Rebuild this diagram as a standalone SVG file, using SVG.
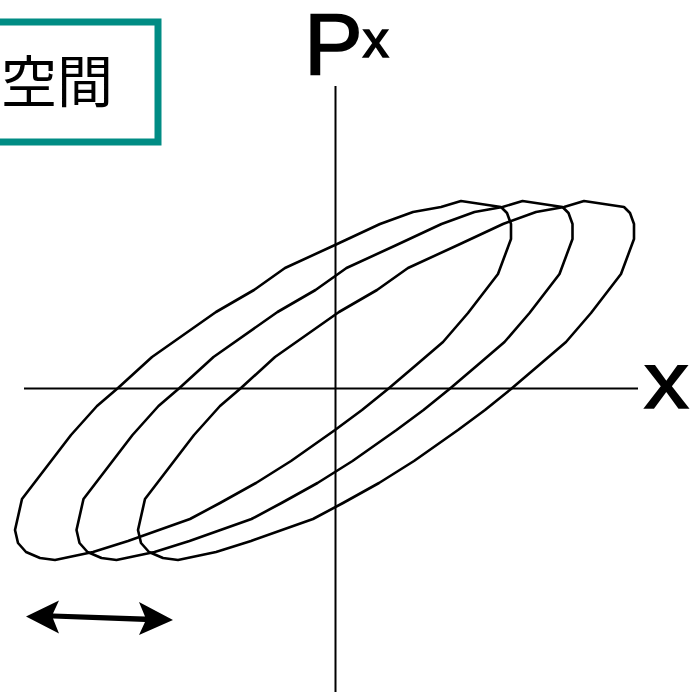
<svg xmlns="http://www.w3.org/2000/svg" width="692" height="692" viewBox="0 0 692 692">
  <style>
    .axis { stroke: #000; stroke-width: 2; fill: none; }
    .orbit { stroke: #000; stroke-width: 2.6; fill: none; stroke-linejoin: round; }
    .lbl { font-family: "Liberation Sans", Arial, sans-serif; fill: #000; stroke: #000; stroke-width: 1.6; }
    .jp { font-family: "Noto Sans CJK JP", "Noto Sans CJK SC", sans-serif; fill: #000; }
  </style>
  <defs>
    <polygon id="ell" points="461,201 501,207 507,213 511,224 511,239 498,274 468,313 443,342 415,366 388,389 362,410 335,430 291,461 256,483 220,503 190,519 128,541 93,552 55,560 40,558 26,552 18,543 15,530 22,499 71,435 97,406 118,388 152,357 216,312 254,290 285,268 335,245 380,224 413,212 441,207"/>
  </defs>
  <rect width="692" height="692" fill="#fff"/>

  <g id="title-box">
    <rect x="-10" y="22" width="168" height="120" fill="#fff" stroke="#008C84" stroke-width="7"/>
    <text class="jp" x="1" y="102" font-size="56">空間</text>
  </g>

  <g id="axes">
    <line class="axis" x1="24" y1="388.5" x2="638" y2="388.5"/>
    <line class="axis" x1="335.5" y1="86" x2="335.5" y2="692"/>
  </g>

  <g id="axis-labels">
    <text class="lbl" x="304" y="74" font-size="88">P<tspan font-size="52" dy="-17">x</tspan></text>
    <text class="lbl" transform="translate(644,408) scale(1.12,1)" font-size="80">x</text>
  </g>

  <g id="ellipses">
    <use href="#ell" class="orbit"/>
    <use href="#ell" class="orbit" transform="translate(61.5,0)"/>
    <use href="#ell" class="orbit" transform="translate(123,0)"/>
  </g>

  <g id="connectors">
    <polygon points="26,616.5 59,600.5 53,613.5 145,616.5 139,602 173,620 139,635 145,622 53,618.5 59,633.5" fill="#000"/>
  </g>
</svg>
